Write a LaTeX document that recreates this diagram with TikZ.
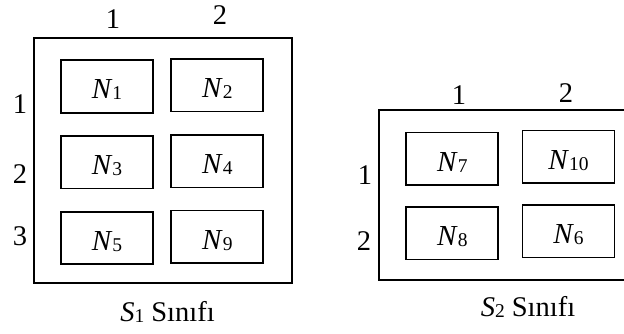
\documentclass[tikz,border=0pt]{standalone}
\usepackage{fontspec}
\setmainfont{Liberation Serif}
\newcommand\lowsub[1]{\raisebox{-1pt}{\fontsize{19.5}{19.5}\selectfont #1}}
\newcommand\seat[1]{\textit{N}\lowsub{#1}}
\begin{document}
\begin{tikzpicture}[x=1pt,y=-1pt,
  every node/.style={inner sep=0pt, outer sep=0pt},
  room/.style={draw, line width=1.8pt},
  desk/.style={draw, line width=1.8pt, minimum width=92pt, minimum height=52.5pt,
    font=\fontsize{29}{29}\selectfont, text height=25pt, text depth=0pt},
  idx/.style={anchor=base, font=\fontsize{28.5}{28.5}\selectfont},
  caption/.style={anchor=base, font=\fontsize{28.5}{28.5}\selectfont}]
\clip (0,0) rectangle (624,334);
\useasboundingbox (0,0) rectangle (624,334);

% classroom S1
\draw[room] (33.7,37.7) rectangle (291.7,282.7);
\node[desk] (n1) at (107,86.5) {\seat{1}};
\node[desk] (n2) at (217.3,85.3) {\seat{2}};
\node[desk] (n3) at (107,162.3) {\seat{3}};
\node[desk] (n4) at (217.3,161.2) {\seat{4}};
\node[desk] (n5) at (107,238) {\seat{5}};
\node[desk] (n9) at (217.3,236.7) {\seat{9}};
\node[idx] (c11) at (113,28.3) {1};
\node[idx] (c12) at (220,25) {2};
\node[idx] (r11) at (20,114) {1};
\node[idx] (r12) at (20,183) {2};
\node[idx] (r13) at (20,245) {3};
\node[caption] (cap1) at (167.5,321) {\textit{S}\lowsub{1} Sınıfı};

% classroom S2 (runs past the right edge)
\draw[room] (640,110) -- (379.3,110) -- (379.3,280) -- (640,280);
\node[desk] (n7) at (452.3,158.7) {\seat{7}};
\node[desk] (n10) at (568.5,156.8) {\seat{10}};
\node[desk] (n8) at (452.3,233.3) {\seat{8}};
\node[desk] (n6) at (568.5,231.3) {\seat{6}};
\node[idx] (c21) at (459,105) {1};
\node[idx] (c22) at (566,103) {2};
\node[idx] (r21) at (365,185) {1};
\node[idx] (r22) at (364,250) {2};
\node[caption] (cap2) at (528,316.7) {\textit{S}\lowsub{2} Sınıfı};
\end{tikzpicture}
\end{document}
